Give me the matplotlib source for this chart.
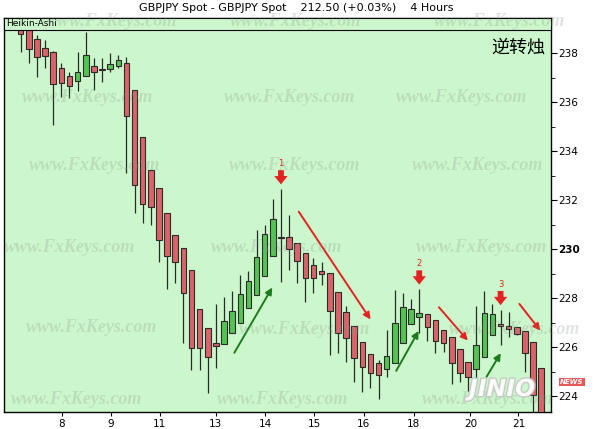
import matplotlib
matplotlib.use('Agg')
import matplotlib.pyplot as plt
import matplotlib.patheffects as pe
from matplotlib.patches import Rectangle
import numpy as np

# Heikin-Ashi candles, 4 hour bars
opens = [239.20, 238.98, 238.57, 238.22, 238.05, 237.40, 237.07, 236.86, 237.07, 237.48,
         237.35, 237.33, 237.46, 237.58, 236.49, 234.56, 233.22, 232.48, 231.46, 230.57,
         230.03, 229.14, 227.54, 226.76, 226.18, 226.11, 226.56, 226.99, 227.58, 228.12,
         228.90, 229.73, 230.50, 230.50, 230.23, 229.85, 229.35, 229.10, 229.03, 228.26,
         227.42, 226.87, 226.22, 225.70, 225.33, 225.10, 225.36, 226.18, 226.93, 227.21,
         227.35, 227.10, 226.69, 226.40, 225.91, 225.40, 225.09, 225.58, 226.49, 226.92,
         226.87, 226.80, 226.66, 226.19, 225.13]
highs = [239.40, 239.10, 238.73, 238.53, 238.08, 237.58, 237.24, 238.03, 238.84, 237.81,
         237.81, 237.99, 237.92, 237.82, 236.49, 234.56, 233.22, 232.48, 231.46, 230.57,
         230.03, 229.14, 227.54, 226.76, 227.76, 228.05, 228.30, 228.94, 229.11, 230.78,
         230.98, 232.03, 232.44, 231.39, 230.23, 229.85, 229.62, 229.48, 229.03, 228.26,
         227.67, 226.87, 226.22, 225.70, 225.47, 226.69, 228.33, 228.22, 227.97, 228.35,
         227.35, 227.10, 226.69, 226.40, 225.91, 225.40, 227.67, 228.29, 227.76, 227.51,
         227.45, 226.80, 226.66, 226.19, 225.13]
lows = [238.05, 237.58, 237.03, 237.38, 235.06, 236.22, 236.15, 236.45, 237.07, 236.49,
        236.83, 237.24, 237.38, 233.09, 231.48, 231.05, 230.98, 229.48, 228.36, 228.60,
        226.15, 225.06, 225.06, 224.11, 225.14, 226.11, 226.56, 226.99, 227.58, 228.12,
        228.90, 229.73, 228.67, 229.14, 228.62, 227.85, 228.22, 228.53, 225.67, 225.74,
        225.40, 224.58, 224.18, 224.31, 223.90, 224.79, 225.36, 226.18, 226.93, 226.58,
        226.26, 225.74, 225.81, 224.49, 224.58, 224.22, 224.58, 225.58, 226.49, 226.08,
        226.42, 226.50, 224.99, 223.36, 222.90]
closes = [238.76, 238.16, 237.85, 237.89, 236.72, 236.76, 236.65, 237.24, 237.92, 237.21,
          237.31, 237.55, 237.71, 235.43, 232.61, 231.84, 231.73, 230.37, 229.71, 229.48,
          228.19, 225.95, 225.95, 225.58, 226.04, 227.07, 227.48, 228.16, 228.69, 229.69,
          230.60, 231.22, 230.45, 229.99, 229.51, 228.80, 228.80, 229.00, 227.48, 226.58,
          226.36, 225.54, 225.17, 224.96, 224.88, 225.63, 227.00, 227.65, 227.55, 227.40,
          226.83, 226.26, 226.15, 225.36, 224.95, 224.79, 226.08, 227.40, 227.35, 226.88,
          226.73, 226.53, 225.77, 224.04, 223.00]

# day labels and where they sit along the bars
day_labels = ['8', '9', '11', '13', '14', '15', '16', '18', '20', '21']
day_pos = [5.08, 11.1, 17.1, 24.0, 30.05, 36.1, 42.2, 48.3, 55.3, 61.2]

# reversal candles marked 1, 2, 3
reversal_idx = [32, 49, 59]
# trend arrows (bar index, price) start -> end
green_arrows = [((26.1, 225.67), (31.1, 228.53)),
                ((46.0, 224.93), (49.1, 226.76)),
                ((57.1, 224.69), (59.2, 225.85))]
red_arrows = [((34.0, 231.62), (43.2, 227.03)),
              ((51.2, 227.71), (55.2, 226.18)),
              ((61.1, 227.85), (64.1, 226.58))]

bg = '#ccf7cc'
up_col = '#52c452'
dn_col = '#d8646a'

fig = plt.figure(figsize=(6, 4.29), dpi=100)
ax = fig.add_axes([4/600, 17/429, 547/600, 394/429])
ax.set_facecolor(bg)

n = len(opens)
x = np.arange(n)
o = np.array(opens); h = np.array(highs); l = np.array(lows); c = np.array(closes)
up = c >= o
ax.vlines(x, l, h, color='#2a2a2a', lw=0.9, zorder=2)
bottoms = np.minimum(o, c)
heights = np.maximum(np.abs(c - o), 0.05)
ax.bar(x, heights, bottom=bottoms, width=0.68,
       color=[up_col if u else dn_col for u in up],
       edgecolor='#2e2a2a', linewidth=0.8, zorder=3)

ax.set_xlim(-2.05, 65.2)
ax.set_ylim(223.35, 239.43)

# watermarks
marks = [(112, 22), (296, 22), (500, 22),
         (88, 97), (290, 97), (462, 97),
         (95, 166), (295, 166), (478, 166),
         (70, 247), (277, 247), (482, 247),
         (92, 328), (305, 330), (515, 330),
         (77, 400), (283, 400), (488, 400)]
for mx, my in marks:
    fig.text(mx/600, 1 - my/429, 'www.FxKeys.com', fontsize=13, family='Liberation Serif',
             style='italic', weight='bold', color='#8a9a8a', alpha=0.26,
             ha='center', va='center', zorder=1)

# header box
ax.add_patch(Rectangle((0, 0.9695), 1, 0.0305, transform=ax.transAxes,
                       facecolor=bg, edgecolor='black', lw=0.8, zorder=6, clip_on=False))
ax.text(0.003, 0.985, 'Heikin-Ashi', transform=ax.transAxes, fontsize=6.5,
        va='center', ha='left', zorder=7)

# arrows
for s, e in green_arrows:
    ax.annotate('', xy=e, xytext=s,
                arrowprops=dict(arrowstyle='-|>', color='#1e7a1e', lw=1.4, mutation_scale=10),
                zorder=5)
for s, e in red_arrows:
    ax.annotate('', xy=e, xytext=s,
                arrowprops=dict(arrowstyle='-|>', color='#e32222', lw=1.4, mutation_scale=10),
                zorder=5)
for k, i in enumerate(reversal_idx):
    ax.annotate('', xy=(i, highs[i] + 0.2), xytext=(i, highs[i] + 0.78),
                arrowprops=dict(arrowstyle='simple,head_width=0.8,head_length=0.5,tail_width=0.35',
                                color='#e32222', lw=0, shrinkA=0, shrinkB=0,
                                mutation_scale=12),
                zorder=5)
    ax.text(i, highs[i] + 1.05, str(k + 1), color='#e32222', fontsize=6,
            ha='center', va='center', zorder=5)

ax.text(0.989, 0.924, '逆转烛', transform=ax.transAxes, fontsize=13,
        family=['Noto Sans CJK SC', 'DejaVu Sans'], ha='right', va='center', zorder=7)

# axes / ticks
ax.yaxis.tick_right()
ax.set_yticks(np.arange(224, 239, 2))
ax.set_yticks(np.arange(225, 239, 2), minor=True)
ax.tick_params(axis='y', which='major', length=4, labelsize=7.5, pad=1, direction='out')
ax.tick_params(axis='y', which='minor', length=3, direction='out')
ax.set_xticks(day_pos)
ax.set_xticklabels(day_labels)
ax.tick_params(axis='x', length=3, labelsize=7.5, pad=2, direction='out')
for lab in ax.get_yticklabels():
    if lab.get_text() == '230':
        lab.set_fontweight('bold')
for sp in ax.spines.values():
    sp.set_linewidth(1.0)

fig.text(0.493, 0.981, 'GBPJPY Spot - GBPJPY Spot    212.50 (+0.03%)    4 Hours',
         fontsize=8, ha='center', va='center')

# logo in bottom right corner
fig.text(502/600, 1 - 389/429, 'JINIO', fontsize=17, weight='bold', style='italic',
         color='white', alpha=0.85, ha='center', va='center', zorder=8,
         path_effects=[pe.withStroke(linewidth=2, foreground='#c4c4c4')])
fig.text(572/600, 1 - 382/429, 'NEWS', fontsize=5, weight='bold', style='italic',
         color='white', ha='center', va='center', zorder=8,
         bbox=dict(boxstyle='square,pad=0.15', facecolor='#e85a5a', edgecolor='none'))

fig.savefig('out.png', dpi=100)
